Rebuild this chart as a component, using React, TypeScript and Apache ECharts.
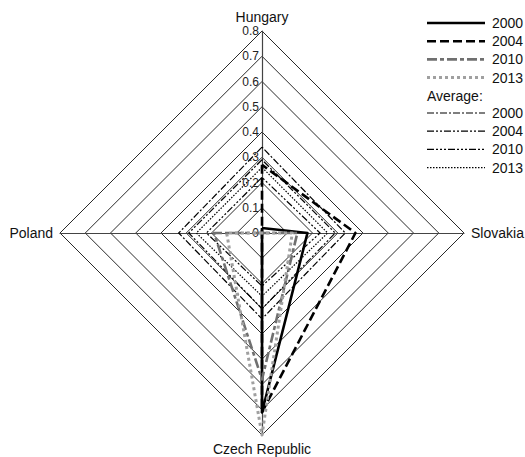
import React, { useEffect, useRef } from "react";
import * as echarts from "echarts";

// Countries listed clockwise from the top of the chart
const countries = ["Hungary", "Slovakia", "Czech Republic", "Poland"];
const maxValue = 0.8;
const tickStep = 0.1;

// Values per country (Hungary, Slovakia, Czech Republic, Poland)
const y2000 = [0.02, 0.18, 0.71, 0];
const y2004 = [0.27, 0.37, 0.71, 0];
const y2010 = [0, 0.14, 0.58, 0.19];
const y2013 = [0, 0.12, 0.8, 0.14];
const avg2000 = [0.34, 0.33, 0.34, 0.33];
const avg2004 = [0.29, 0.29, 0.3, 0.29];
const avg2010 = [0.22, 0.23, 0.21, 0.22];
const avg2013 = [0.26, 0.26, 0.25, 0.26];

const mainYears = ["2000", "2004", "2010", "2013"];
const avgYears = ["2000", "2004", "2010", "2013"];
const avgTitle = "Average:";

const FONT = "Liberation Sans, Arial, sans-serif";

const mainStyles = [
  { color: "#000000", width: 2.6, type: "solid" as any },
  { color: "#000000", width: 2.6, type: [9, 4] },
  { color: "#707070", width: 2.6, type: [10, 3, 4, 3] },
  { color: "#a0a0a0", width: 3, type: [3, 3] },
];
const avgStyles = [
  { color: "#000000", width: 1.2, type: [7, 2, 2, 2] },
  { color: "#000000", width: 1.2, type: [7, 2, 2, 2, 2, 2] },
  { color: "#000000", width: 1.2, type: [7, 2, 2, 2, 2, 2, 2, 2] },
  { color: "#000000", width: 1.2, type: [1.5, 1.5] },
];

// ECharts radar places indicators counter-clockwise from the top
const ccwOrder = [0, 3, 2, 1];
const reorder = (arr: number[]) => ccwOrder.map((i) => arr[i]);

export default function App() {
  const ref = useRef<HTMLDivElement>(null);

  useEffect(() => {
    document.body.style.margin = "0";
    if (!ref.current) return;
    const chart = echarts.init(ref.current, undefined, { renderer: "svg" });

    const mainValues = [y2000, y2004, y2010, y2013];
    const avgValues = [avg2000, avg2004, avg2010, avg2013];

    const data: any[] = [];
    avgValues.forEach((v, i) => {
      const s = avgStyles[i];
      data.push({
        name: "Average " + avgYears[i],
        value: reorder(v),
        lineStyle: { color: s.color, width: s.width, type: s.type },
      });
    });
    mainValues.forEach((v, i) => {
      const s = mainStyles[i];
      data.push({
        name: mainYears[i],
        value: reorder(v),
        lineStyle: { color: s.color, width: s.width, type: s.type },
      });
    });

    // Legend drawn with graphic elements
    const legendX1 = 427;
    const legendX2 = 485;
    const textX = 492;
    const rowY0 = 23;
    const rowH = 18.2;
    const graphics: any[] = [];
    mainYears.forEach((yr, i) => {
      const y = rowY0 + i * rowH;
      const s = mainStyles[i];
      graphics.push({
        type: "line",
        shape: { x1: legendX1, y1: y, x2: legendX2, y2: y },
        style: {
          stroke: s.color,
          lineWidth: s.width,
          lineDash: Array.isArray(s.type) ? s.type : null,
        },
      });
      graphics.push({
        type: "text",
        x: textX,
        y,
        style: { text: yr, fontSize: 14, fill: "#111", verticalAlign: "middle", fontFamily: FONT },
      });
    });
    const avgTitleY = rowY0 + 4 * rowH;
    graphics.push({
      type: "text",
      x: legendX1,
      y: avgTitleY,
      style: { text: avgTitle, fontSize: 14, fill: "#111", verticalAlign: "middle", fontFamily: FONT },
    });
    avgYears.forEach((yr, i) => {
      const y = avgTitleY + (i + 1) * rowH - 1;
      const s = avgStyles[i];
      graphics.push({
        type: "line",
        shape: { x1: legendX1, y1: y, x2: legendX2, y2: y },
        style: { stroke: s.color, lineWidth: s.width, lineDash: s.type },
      });
      graphics.push({
        type: "text",
        x: textX,
        y,
        style: { text: yr, fontSize: 14, fill: "#111", verticalAlign: "middle", fontFamily: FONT },
      });
    });

    const cx = 262;
    const cy = 233;
    const radius = 202;

    chart.setOption({
      animation: false,
      textStyle: { fontFamily: FONT },
      radar: {
        center: [cx, cy],
        radius,
        startAngle: 90,
        shape: "polygon",
        splitNumber: Math.round(maxValue / tickStep),
        nameGap: 7,
        axisName: { color: "#111", fontSize: 14, fontFamily: FONT },
        indicator: reorder(countries.map((_, i) => i)).map((i) => ({
          name: countries[i],
          min: 0,
          max: maxValue,
        })),
        splitLine: { lineStyle: { color: "#2a2a2a", width: 1 } },
        splitArea: { show: false },
        axisLine: { lineStyle: { color: "#444", width: 1.2 } },
        axisTick: { show: false },
        axisLabel: { show: false },
      },
      grid: { left: cx, top: cy - radius, height: radius, width: 1 },
      xAxis: { type: "value", show: false },
      yAxis: {
        type: "value",
        min: 0,
        max: maxValue,
        interval: tickStep,
        axisLine: { show: false },
        axisTick: { show: false },
        splitLine: { show: false },
        axisLabel: {
          margin: 3,
          fontSize: 12,
          color: "#222",
          fontFamily: FONT,
          formatter: (v: number) => String(+v.toFixed(1)),
        },
      },
      graphic: graphics,
      series: [
        {
          type: "radar",
          symbol: "none",
          data,
        },
      ],
    });

    return () => chart.dispose();
  }, []);

  return <div ref={ref} style={{ width: 525, height: 457 }} />;
}
